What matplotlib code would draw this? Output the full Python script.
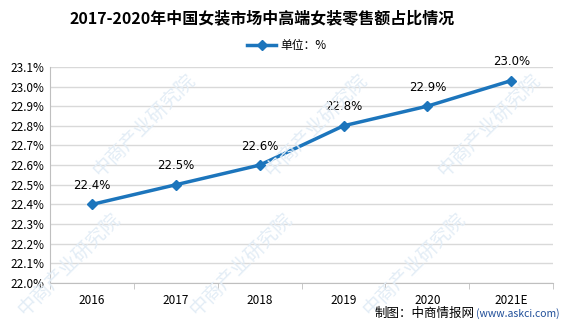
import matplotlib.pyplot as plt

plt.rcParams['font.family'] = ['Noto Sans CJK SC', 'DejaVu Sans']

# Data
years = ['2016', '2017', '2018', '2019', '2020', '2021E']
share = [22.4, 22.5, 22.6, 22.8, 22.9, 23.03]
labels = ['22.4%', '22.5%', '22.6%', '22.8%', '22.9%', '23.0%']
yticks = [22.0, 22.1, 22.2, 22.3, 22.4, 22.5, 22.6, 22.7, 22.8, 22.9, 23.0, 23.1]

blue = '#1c75bc'

fig = plt.figure(figsize=(5.75, 3.3), dpi=100)
ax = fig.add_axes([0.087, 0.1424, 0.875, 0.655])

# faint watermarks
for wx, wy in [(0.12, 0.2), (0.42, 0.2), (0.72, 0.2), (0.25, 0.62), (0.55, 0.62), (0.85, 0.62)]:
    fig.text(wx, wy, '中商产业研究院', rotation=45, fontsize=14, color='#e3edf6',
             ha='center', va='center', zorder=0)

x = list(range(len(years)))
ax.plot(x, share, color=blue, lw=2.5, marker='D', markersize=5, label='单位：%', zorder=3)
for xi, yi, lab in zip(x, share, labels):
    ax.annotate(lab, (xi, yi), xytext=(0, 9), textcoords='offset points',
                ha='center', va='bottom', fontsize=8.5, color='black',
                family=['DejaVu Sans'])

ax.set_xlim(-0.5, len(years) - 0.5)
ax.set_ylim(22.0, 23.1)
ax.set_yticks(yticks)
ax.set_yticklabels([f'{v:.1f}%' for v in yticks], fontsize=8.5)
ax.set_xticks(x)
ax.set_xticklabels(years, fontsize=8.5)
ax.set_xticks([i - 0.5 for i in range(len(years) + 1)], minor=True)
ax.tick_params(axis='x', which='major', length=0, pad=8)
ax.tick_params(axis='x', which='minor', length=4, color='#bfbfbf')
ax.tick_params(axis='y', length=0, pad=4)
ax.grid(axis='y', color='#d9d9d9', lw=1)
ax.set_axisbelow(True)
for s in ['top', 'right']:
    ax.spines[s].set_visible(False)
for s in ['left', 'bottom']:
    ax.spines[s].set_color('#bfbfbf')
ax.patch.set_alpha(0)

fig.text(0.455, 0.945, '2017-2020年中国女装市场中高端女装零售额占比情况',
         ha='center', va='center', fontsize=11.5, fontweight='bold')
ax.legend(loc='center', bbox_to_anchor=(0.47, 1.1), frameon=False, fontsize=8.5,
          handlelength=2.5, handletextpad=0.3)

src = fig.text(0.652, 0.05, '制图：中商情报网', ha='left', va='center', fontsize=9)
fig.canvas.draw()
ax.annotate('(www.askci.com)', xy=(1.0, 0.5), xycoords=src, xytext=(1, 0),
            textcoords='offset points', ha='left', va='center', fontsize=7.5,
            color='#1f4e99')

plt.savefig('out.png', dpi=100)
plt.close()
